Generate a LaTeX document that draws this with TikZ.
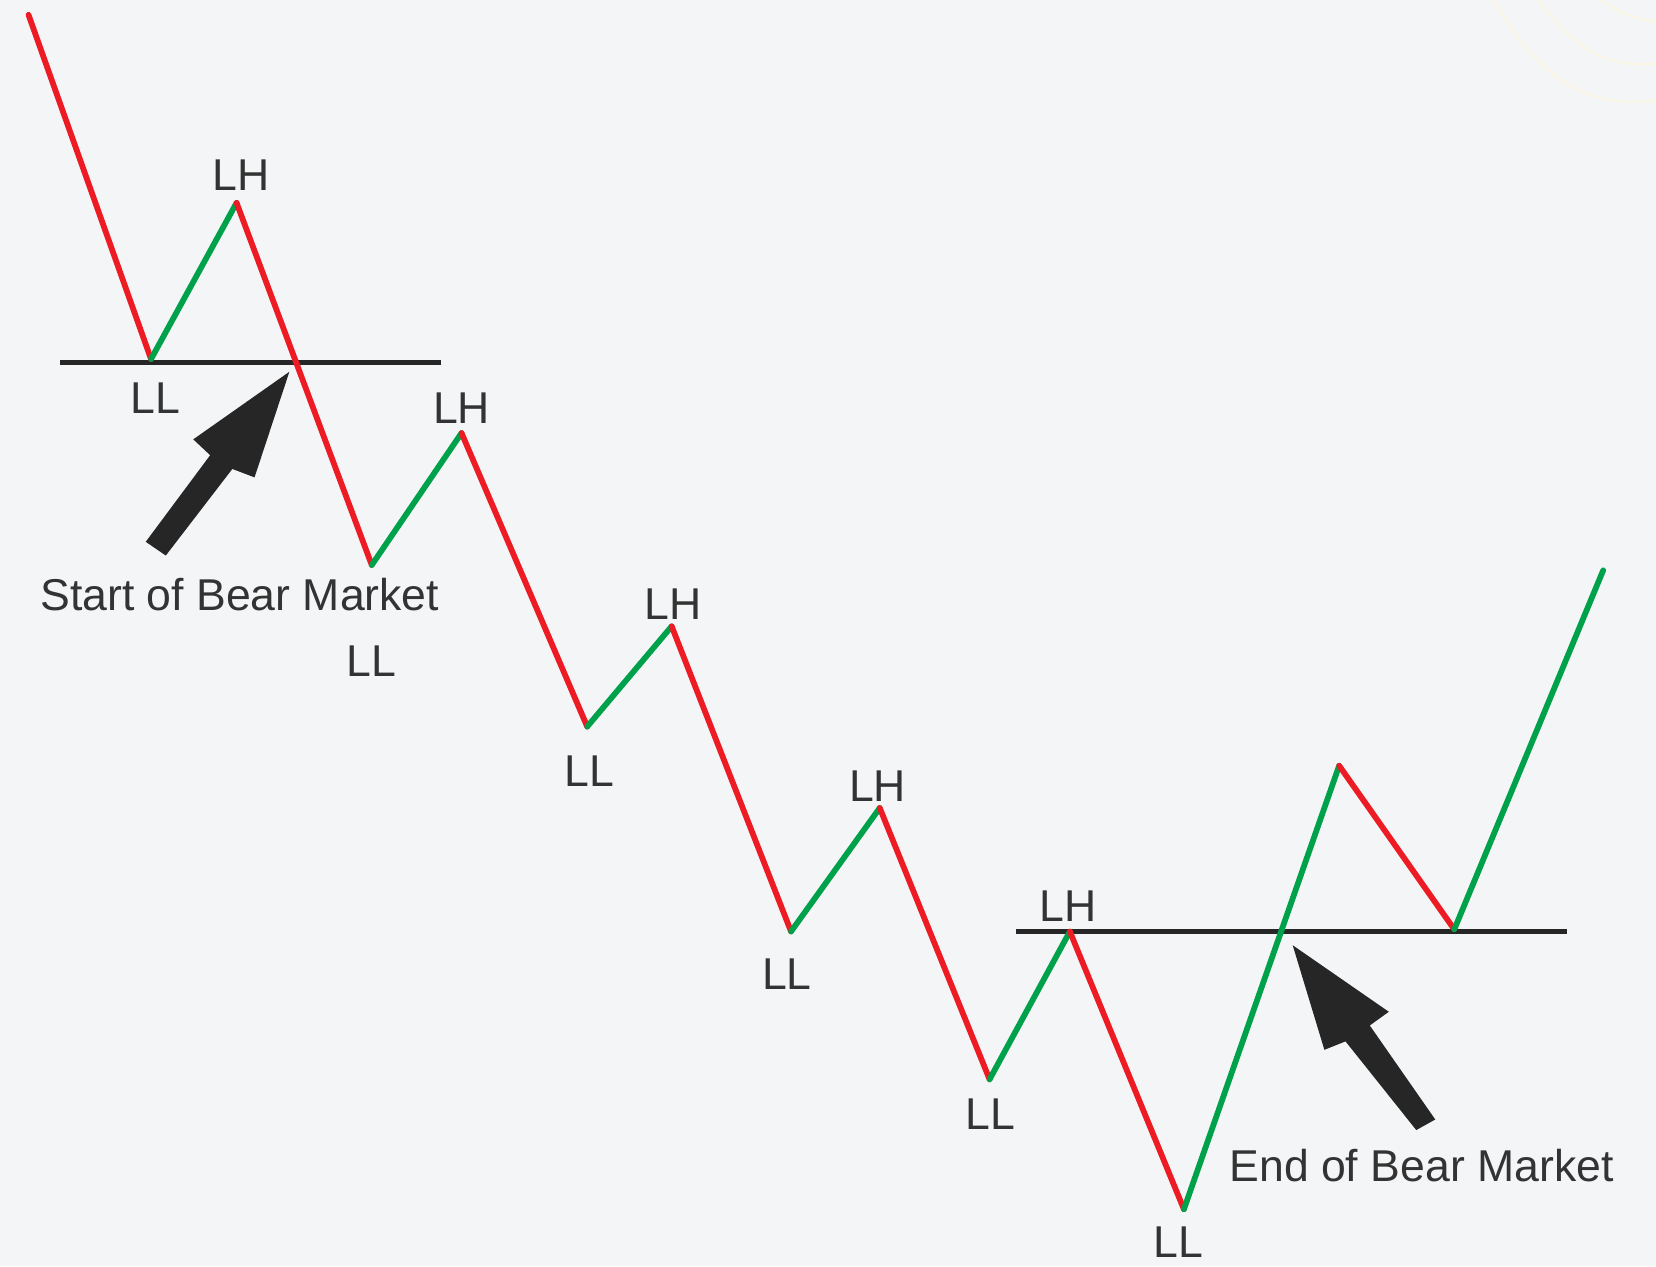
\documentclass[tikz,border=0pt]{standalone}
\usepackage{fontspec}
\setmainfont{Liberation Sans}
\definecolor{bg}{HTML}{F4F5F6}
\definecolor{bearred}{HTML}{ED1C24}
\definecolor{bullgreen}{HTML}{00A14B}
\definecolor{ink}{HTML}{333333}
\definecolor{arcy}{HTML}{FBF7E6}
\begin{document}
\begin{tikzpicture}[x=0.01cm,y=-0.01cm,
  down/.style={draw=bearred,line width=1.55pt,line cap=round,line join=round},
  up/.style={draw=bullgreen,line width=1.55pt,line cap=round,line join=round},
  level/.style={draw=black!85,line width=1.4pt},
  lbl/.style={text=ink,font=\fontsize{12}{14}\selectfont,inner sep=0pt},
  blockarrow/.style={fill=black!85,draw=none}]
\fill[bg] (0,0) rectangle (1568,1199);
\useasboundingbox (0,0) rectangle (1568,1199);
% faint decorative arcs
\draw[arcy,line width=0.6pt] (1414,0) .. controls (1450,60) and (1490,105) .. (1568,95);
\draw[arcy,line width=0.6pt] (1456,0) .. controls (1490,45) and (1520,65) .. (1568,60);
\draw[arcy,line width=0.6pt] (1515,0) .. controls (1535,12) and (1550,20) .. (1568,20);
% points
\coordinate (p0) at (27,14);
\coordinate (p1) at (143,340);
\coordinate (p2) at (224,192);
\coordinate (p3) at (352,535);
\coordinate (p4) at (437,410);
\coordinate (p5) at (556,688);
\coordinate (p6) at (636,593);
\coordinate (p7) at (749,882);
\coordinate (p8) at (833,765);
\coordinate (p9) at (937,1022);
\coordinate (p10) at (1013,882);
\coordinate (p11) at (1121,1145);
\coordinate (p12) at (1268,725);
\coordinate (p13) at (1377,880);
\coordinate (p14) at (1518,540);
% level lines
\coordinate (l1a) at (57,343);
\coordinate (l1b) at (418,343);
\coordinate (l2a) at (962,882);
\coordinate (l2b) at (1484,882);
\draw[level] (l1a) -- (l1b);
\draw[level] (l2a) -- (l2b);
% price path
\draw[down] (p0) -- (p1);
\draw[up] (p1) -- (p2);
\draw[down] (p2) -- (p3);
\draw[up] (p3) -- (p4);
\draw[down] (p4) -- (p5);
\draw[up] (p5) -- (p6);
\draw[down] (p6) -- (p7);
\draw[up] (p7) -- (p8);
\draw[down] (p8) -- (p9);
\draw[up] (p9) -- (p10);
\draw[down] (p10) -- (p11);
\draw[up] (p11) -- (p12);
\draw[down] (p12) -- (p13);
\draw[up] (p13) -- (p14);
% block arrows
\fill[blockarrow] (274,352) -- (241,452) -- (220,444) -- (157,526) -- (138,513) -- (199,431) -- (183,416) -- cycle;
\fill[blockarrow] (1224,895) -- (1315,958) -- (1297,971) -- (1359,1060) -- (1341,1070) -- (1274,986) -- (1254,994) -- cycle;
% labels
\node[lbl] (t1) at (228,166) {LH};
\node[lbl] (t2) at (147,377) {LL};
\node[lbl] (t3) at (437,386) {LH};
\node[lbl] (t4) at (227,563) {Start of Bear Market};
\node[lbl] (t5) at (352,626) {LL};
\node[lbl] (t6) at (637,572) {LH};
\node[lbl] (t7) at (558,730) {LL};
\node[lbl] (t8) at (831,744) {LH};
\node[lbl] (t9) at (745,922) {LL};
\node[lbl] (t10) at (1011,858) {LH};
\node[lbl] (t11) at (938,1055) {LL};
\node[lbl] (t12) at (1346,1104) {End of Bear Market};
\node[lbl] (t13) at (1116,1176) {LL};
\end{tikzpicture}
\end{document}
